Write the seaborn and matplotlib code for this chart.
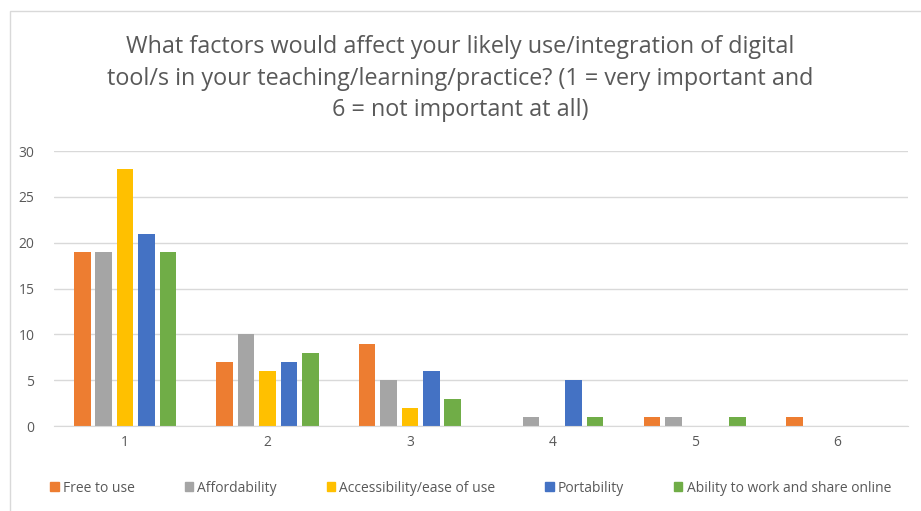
import pandas as pd
import numpy as np
import matplotlib.pyplot as plt
import matplotlib.patches as mpatches
import seaborn as sns

# data
ratings = ["1", "2", "3", "4", "5", "6"]
factors = ["Free to use", "Affordability", "Accessibility/ease of use",
           "Portability", "Ability to work and share online"]
free_to_use = [19, 7, 9, 0, 1, 1]
affordability = [19, 10, 5, 1, 1, 0]
accessibility = [28, 6, 2, 0, 0, 0]
portability = [21, 7, 6, 5, 0, 0]
ability_online = [19, 8, 3, 1, 1, 0]
colors = ["#ED7D31", "#A5A5A5", "#FFC000", "#4472C4", "#70AD47"]

rows = []
for name, vals in zip(factors, [free_to_use, affordability, accessibility, portability, ability_online]):
    for r, v in zip(ratings, vals):
        rows.append({"rating": r, "factor": name, "count": v})
df = pd.DataFrame(rows)

sns.set_style("white")
plt.rcParams['font.family'] = ['Open Sans', 'DejaVu Sans']
grey = "#595959"

fig = plt.figure(figsize=(9.21, 5.11), dpi=100)
ax = fig.add_axes([0.0586, 0.166, 0.9274, 0.5385])
sns.barplot(data=df, x="rating", y="count", hue="factor", hue_order=factors,
            palette=colors, width=0.75, gap=0.22, ax=ax, legend=False,
            linewidth=0, saturation=1)

ax.set_ylim(0, 30)
ax.set_yticks(range(0, 31, 5))
ax.yaxis.grid(True, color="#D9D9D9", linewidth=1)
ax.set_axisbelow(True)
for s in ["top", "right", "left"]:
    ax.spines[s].set_visible(False)
ax.spines["bottom"].set_color("#D9D9D9")
ax.tick_params(axis="both", length=0, colors=grey, labelsize=10)
ax.tick_params(axis="y", pad=14)
ax.tick_params(axis="x", pad=6)
ax.set_xlabel("")
ax.set_ylabel("")

fig.text(0.5, 0.846, "What factors would affect your likely use/integration of digital\n"
         "tool/s in your teaching/learning/practice? (1 = very important and\n"
         "6 = not important at all)", ha="center", va="center",
         fontsize=16.8, color=grey, linespacing=1.4)

handles = [mpatches.Patch(color=c, label=f) for c, f in zip(colors, factors)]
fig.legend(handles=handles, loc="center", bbox_to_anchor=(0.511, 0.045), ncol=5,
           frameon=False, fontsize=10, handlelength=0.6, handleheight=0.6,
           handletextpad=0.3, columnspacing=3.6, labelcolor=grey)

# chart border
fig.patches.append(mpatches.Rectangle((10 / 921, -0.1), 1.2, 1.0 - 11 / 511 + 0.1,
                                      transform=fig.transFigure, fill=False,
                                      edgecolor="#D9D9D9", linewidth=1))

fig.savefig("out.png", dpi=100)
